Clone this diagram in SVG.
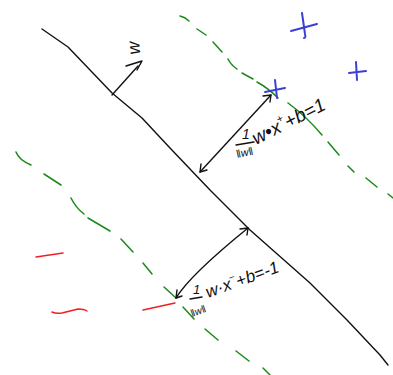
<svg xmlns="http://www.w3.org/2000/svg" width="393" height="375" viewBox="0 0 393 375">
<style>
.ink{fill:none;stroke:#111;stroke-width:1.4;stroke-linecap:round;stroke-linejoin:round}
.grn{fill:none;stroke:#1a8a1a;stroke-width:1.5;stroke-linecap:round}
.blu{fill:none;stroke:#3b3fd4;stroke-width:2;stroke-linecap:round}
.red{fill:none;stroke:#f02020;stroke-width:1.5;stroke-linecap:round}
.t{font-family:"Liberation Sans",Arial,sans-serif;fill:#111;font-style:italic}
</style>
<rect width="393" height="375" fill="#fff"/>
<g id="hyperplane">
<path class="ink" d="M42,29 L68,47 L112,93 L142,118 L170,148 L210,190 L250,230 L310,283 L347,320 L380,355 L388,365"/>
</g>
<g id="margin-plus">
<path class="grn" d="M180,16 Q185,17 189,21 M197,29 L206,35 M213,42 L222,52 M228,59 Q231,65 237,69 M242,73 L253,79 M257,82 Q268,88 278,98 M288,103 Q306,116 322,135 M328,142 L339,155 M348,166 L354,172 M366,178 L377,187 M388,194 L393,198"/>
</g>
<g id="margin-minus">
<path class="grn" d="M16,152 Q19,160 31,165 M44,174 L61,185 M71,198 Q76,208 84,214 M88,218 L110,231 M121,239 L133,252 M143,263 L152,274 M164,287 L176,298 M183,307 L194,319 M205,329 L218,340 M236,351 L249,361 M263,368 L270,375"/>
</g>
<g id="positive-points">
<path class="blu" d="M302,13 L305,34 Q306,38 304,38 M291,31 L317,24"/>
<path class="blu" d="M356,62 L357,80 M349,73 L366,71"/>
<path class="blu" d="M275,80 L277,98 M265,92 L285,88"/>
</g>
<g id="negative-points">
<path class="red" d="M36,257 L63,253"/>
<path class="red" d="M52,312 Q56,314 62,313 L78,309 Q84,309 87,311"/>
<path class="red" d="M143,310 L175,303"/>
</g>
<g id="connectors">
<path class="ink" d="M112,95 L138,66"/>
<path class="ink" d="M126,66 L142,61 L137,70"/>
<path class="ink" d="M200,172 L271,95"/>
<path class="ink" d="M201,164 L200,172 L207,170"/>
<path class="ink" d="M263,96 L271,95 L270,102"/>
<path class="ink" d="M176,298 Q190,275 248,228"/>
<path class="ink" d="M177,290 L176,298 L182,296"/>
<path class="ink" d="M240,229 L248,228 L247,235"/>
</g>
<g id="label-w">
<text class="t" x="135" y="48" font-size="18" text-anchor="middle" dominant-baseline="middle" transform="rotate(-95,135,48)">w</text>
</g>
<g id="label-plus">
<text class="t" x="242" y="139" font-size="14">1</text>
<path class="ink" d="M236,145 L254,142"/>
<text class="t" x="237" y="158" font-size="11" transform="rotate(-12,237,158)">‖w‖</text>
<text class="t" x="256" y="145" font-size="19" transform="rotate(-27,256,145)">w•x<tspan font-size="11" dy="-9">+</tspan><tspan dy="9">+b=1</tspan></text>
</g>
<g id="label-minus">
<text class="t" x="193" y="294" font-size="13">1</text>
<path class="ink" d="M190,299 L202,297"/>
<text class="t" x="192" y="317" font-size="10" transform="rotate(-20,192,317)">‖w‖</text>
<text class="t" x="208" y="298" font-size="17" transform="rotate(-20,208,298)">w·x<tspan font-size="10" dy="-8">−</tspan><tspan dy="8">+b=-1</tspan></text>
</g>
</svg>
